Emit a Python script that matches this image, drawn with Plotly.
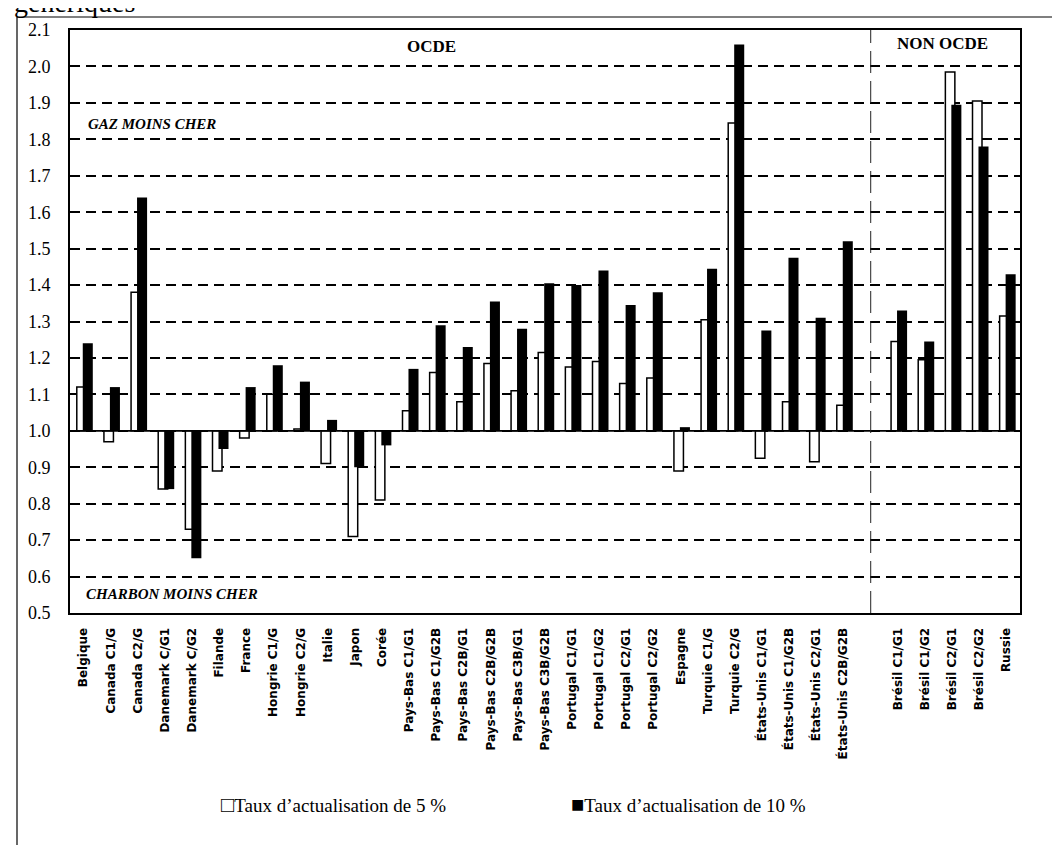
import plotly.graph_objects as go

# ---- data ----
ocde_categories = [
    "Belgique", "Canada C1/G", "Canada C2/G", "Danemark C/G1", "Danemark C/G2",
    "Filande", "France", "Hongrie C1/G", "Hongrie C2/G", "Italie", "Japon", "Corée",
    "Pays-Bas C1/G1", "Pays-Bas C1/G2B", "Pays-Bas C2B/G1", "Pays-Bas C2B/G2B",
    "Pays-Bas C3B/G1", "Pays-Bas C3B/G2B", "Portugal C1/G1", "Portugal C1/G2",
    "Portugal C2/G1", "Portugal C2/G2", "Espagne", "Turquie C1/G", "Turquie C2/G",
    "États-Unis C1/G1", "États-Unis C1/G2B", "États-Unis C2/G1", "États-Unis C2B/G2B",
]
ocde_rate5 = [1.12, 0.97, 1.38, 0.84, 0.73, 0.89, 0.98, 1.10, 1.005, 0.91, 0.71, 0.81,
              1.055, 1.16, 1.08, 1.185, 1.11, 1.215, 1.175, 1.19, 1.13, 1.145, 0.89,
              1.305, 1.845, 0.925, 1.08, 0.915, 1.07]
ocde_rate10 = [1.24, 1.12, 1.64, 0.84, 0.65, 0.95, 1.12, 1.18, 1.135, 1.03, 0.90, 0.96,
               1.17, 1.29, 1.23, 1.355, 1.28, 1.405, 1.40, 1.44, 1.345, 1.38, 1.01,
               1.445, 2.06, 1.275, 1.475, 1.31, 1.52]

non_ocde_categories = ["Brésil C1/G1", "Brésil C1/G2", "Brésil C2/G1", "Brésil C2/G2", "Russie"]
non_ocde_rate5 = [1.245, 1.195, 1.985, 1.905, 1.315]
non_ocde_rate10 = [1.33, 1.245, 1.895, 1.78, 1.43]

BASE = 1.0
y_ticks = [0.5, 0.6, 0.7, 0.8, 0.9, 1.0, 1.1, 1.2, 1.3, 1.4, 1.5, 1.6, 1.7, 1.8, 1.9, 2.0, 2.1]

# ---- positions: OCDE slots, one empty slot, then NON OCDE slots ----
n_o = len(ocde_categories)
x_ocde = list(range(n_o))
gap_slot = n_o
x_non = [gap_slot + 1 + i for i in range(len(non_ocde_categories))]
x_all = x_ocde + x_non
labels_all = ocde_categories + non_ocde_categories
rate5 = ocde_rate5 + non_ocde_rate5
rate10 = ocde_rate10 + non_ocde_rate10
n_slots = n_o + 1 + len(non_ocde_categories)

fig = go.Figure()
fig.add_trace(go.Bar(
    x=x_all, y=[v - BASE for v in rate5], base=BASE,
    offset=-0.25, width=0.35,
    marker=dict(color="white", line=dict(color="black", width=1.5)),
    name="Taux d'actualisation de 5 %", showlegend=False,
))
fig.add_trace(go.Bar(
    x=x_all, y=[v - BASE for v in rate10], base=BASE,
    offset=-0.03, width=0.37,
    marker=dict(color="black", line=dict(color="black", width=0)),
    name="Taux d'actualisation de 10 %", showlegend=False,
))

serif = "Liberation Serif, Times New Roman, serif"

fig.update_layout(
    width=1060, height=845,
    margin=dict(l=62, r=48, t=22, b=240, pad=0),
    paper_bgcolor="white", plot_bgcolor="white",
    barmode="overlay",
    font=dict(family=serif, color="black"),
    xaxis=dict(
        range=[-0.5, n_slots - 0.5],
        tickmode="array", tickvals=x_all, ticktext=labels_all,
        tickangle=-90, ticks="", showgrid=False, zeroline=False,
        tickfont=dict(family="DejaVu Sans, Arial, sans-serif", size=12, color="black", weight="bold"),
        ticklabelstandoff=8,
        showline=True, linecolor="black", linewidth=2, mirror=True,
    ),
    yaxis=dict(
        range=[0.5, 2.1], tickmode="array", tickvals=y_ticks,
        ticktext=[f"{v:.1f}" for v in y_ticks],
        ticks="", zeroline=False,
        showgrid=True, gridcolor="black", gridwidth=1.7, griddash="10px,6px",
        tickfont=dict(family=serif, size=18, color="black"),
        ticklabelstandoff=14,
        showline=True, linecolor="black", linewidth=2, mirror=True,
    ),
)

# baseline at 1.0 (solid)
fig.add_shape(type="line", xref="paper", yref="y", x0=0, x1=1, y0=BASE, y1=BASE,
              line=dict(color="black", width=1.8), layer="above")
# separator OCDE / NON OCDE
fig.add_shape(type="line", xref="x", yref="paper", x0=gap_slot, x1=gap_slot, y0=0, y1=1,
              line=dict(color="#222", width=1, dash="22px,8px"), layer="above")

# outer frame (top and left edges of the page box)
px_x = lambda p: (p - 62) / 950.0
px_y = lambda p: (605 - p) / 583.0
fig.add_shape(type="line", xref="paper", yref="paper", x0=px_x(9), x1=px_x(1065),
              y0=px_y(9), y1=px_y(9), line=dict(color="black", width=1.2))
fig.add_shape(type="line", xref="paper", yref="paper", x0=px_x(9), x1=px_x(9),
              y0=px_y(9), y1=px_y(850), line=dict(color="black", width=1.2))

# texts
fig.add_annotation(text="génériques", xref="paper", yref="paper", x=px_x(4), y=px_y(12),
                   xanchor="left", yanchor="bottom", showarrow=False,
                   font=dict(family=serif, size=28, color="black"))
fig.add_annotation(text="<b>OCDE</b>", xref="paper", yref="paper", x=px_x(423), y=px_y(39),
                   xanchor="center", yanchor="middle", showarrow=False,
                   font=dict(family=serif, size=17, color="black"))
fig.add_annotation(text="<b>NON OCDE</b>", xref="paper", yref="paper", x=px_x(934), y=px_y(36),
                   xanchor="center", yanchor="middle", showarrow=False,
                   font=dict(family=serif, size=17, color="black"))
fig.add_annotation(text="<b><i>GAZ MOINS CHER</i></b>", xref="paper", yref="paper",
                   x=px_x(78), y=px_y(116), xanchor="left", yanchor="middle", showarrow=False,
                   font=dict(family=serif, size=15, color="black"))
fig.add_annotation(text="<b><i>CHARBON MOINS CHER</i></b>", xref="paper", yref="paper",
                   x=px_x(76), y=px_y(586), xanchor="left", yanchor="middle", showarrow=False,
                   font=dict(family=serif, size=15, color="black"))

# legend (as text with square glyphs)
fig.add_annotation(text="<span style='font-size:22px'>□</span>Taux d’actualisation de 5 %",
                   xref="paper", yref="paper",
                   x=px_x(211), y=px_y(796), xanchor="left", yanchor="middle", showarrow=False,
                   font=dict(family=serif, size=19, color="black"))
fig.add_annotation(text="<span style='font-size:22px'>■</span>Taux d’actualisation de 10 %",
                   xref="paper", yref="paper",
                   x=px_x(561), y=px_y(796), xanchor="left", yanchor="middle", showarrow=False,
                   font=dict(family=serif, size=19, color="black"))

fig.write_html("out.html")
